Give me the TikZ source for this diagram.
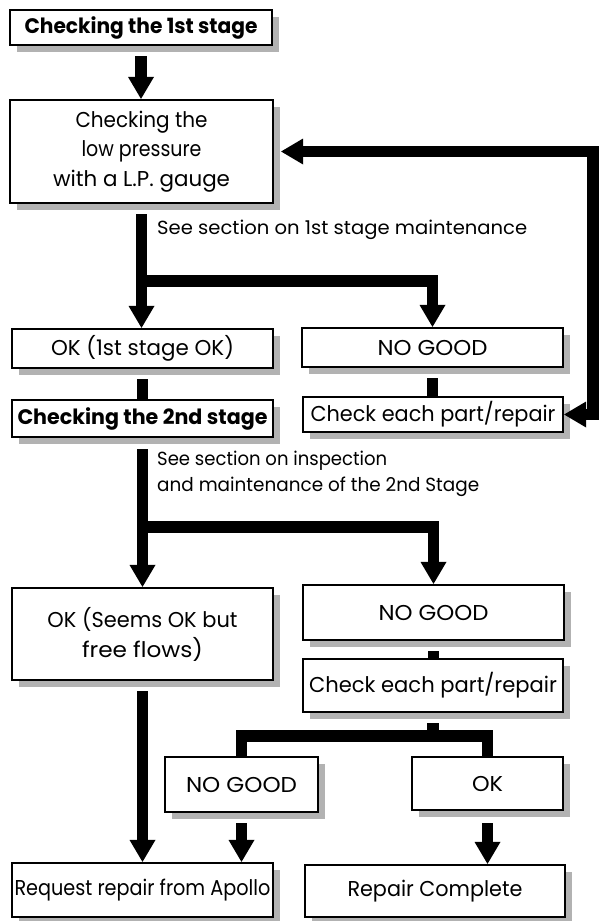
\documentclass[tikz,border=0pt]{standalone}
\usepackage{fontspec}
\setmainfont{Poppins}
\usetikzlibrary{arrows.meta,shadows}
\newsavebox\tbox
\newlength\tlen
\newcommand\fw[2]{\sbox\tbox{#2}\setlength\tlen{\wd\tbox}\pgfmathsetmacro\tsf{#1/\tlen}\scalebox{\tsf}[1]{\usebox\tbox}}
\begin{document}
\begin{tikzpicture}[x=1pt,y=-1pt,
  box/.style={draw=black, line width=2.2pt, fill=white, inner sep=0pt, align=center,
    font=\fontsize{21.5}{29}\selectfont,
    general shadow={fill=black!30, shadow xshift=7pt, shadow yshift=-7pt}},
  note/.style={inner sep=0pt, align=left, anchor=west, font=\fontsize{19}{26}\selectfont},
  link/.style={line width=11.5pt, line join=miter, line cap=butt},
  arr/.style={link, -{Triangle[length=22pt 0 0, width=26pt 0 0, line width=0pt 0 0]}},
  dblarr/.style={link, {Triangle[length=22pt 0 0, width=26pt 0 0, line width=0pt 0 0]}-{Triangle[length=22pt 0 0, width=26pt 0 0, line width=0pt 0 0]}}]
\useasboundingbox (0,0) rectangle (599,921);
\fill[white] (0,0) rectangle (599,921);

% boxes
\node[box, minimum width=262pt, minimum height=35pt, font=\fontsize{21}{29}\selectfont] (b1) at (141,27.5) {\fw{233}{\bfseries Checking the 1st stage}};
\node[box, minimum width=263pt, minimum height=103pt, font=\fontsize{21.5}{29.5}\selectfont] (b2) at (141.5,151.5) {\fw{132}{Checking the}\\\fw{120}{low pressure}\\\fw{177}{with a L.P. gauge}};
\node[box, minimum width=261pt, minimum height=39pt] (ok1) at (142.5,348.5) {\fw{183}{OK (1st stage OK)}};
\node[box, minimum width=261pt, minimum height=39pt] (ng1) at (432.5,347.5) {\fw{110}{NO GOOD}};
\node[box, minimum width=260pt, minimum height=35pt] (chk1) at (433,414.5) {\fw{245}{Check each part/repair}};
\node[box, minimum width=261pt, minimum height=37pt, font=\fontsize{21}{29}\selectfont] (b2nd) at (142.5,418.5) {\fw{250}{\bfseries Checking the 2nd stage}};
\node[box, minimum width=261pt, minimum height=92pt, font=\fontsize{21.5}{30}\selectfont] (ok2) at (142.5,634) {\fw{190}{OK (Seems OK but}\\\fw{121}{free flows)}};
\node[box, minimum width=261pt, minimum height=55pt] (ng2) at (433.5,612.5) {\fw{110}{NO GOOD}};
\node[box, minimum width=260pt, minimum height=53pt] (chk2) at (433,685.5) {\fw{248}{Check each part/repair}};
\node[box, minimum width=153pt, minimum height=55pt] (ng3) at (241.5,784.5) {\fw{111}{NO GOOD}};
\node[box, minimum width=151pt, minimum height=53pt] (ok3) at (487.5,783.5) {\fw{31}{OK}};
\node[box, minimum width=261pt, minimum height=54pt] (req) at (142.5,890) {\fw{256}{Request repair from Apollo}};
\node[box, minimum width=260pt, minimum height=52pt] (rc) at (435,891) {\fw{175}{Repair Complete}};

% notes
\node[note] (n1) at (157,230) {\fw{370}{See section on 1st stage maintenance}};
\node[note] (n2) at (157,474) {\fw{230}{See section on inspection}\\\fw{322}{and maintenance of the 2nd Stage}};

% junction coordinates
\coordinate (j1) at (141.5,281);
\coordinate (j2) at (142.5,527);
\coordinate (j3) at (433,736);
\coordinate (fb) at (593,0);

% connectors
\draw[arr, shorten <=10pt] (b1.south) -- (b1.south |- b2.north);
\draw[arr, shorten <=10pt] (b2.south) -- (b2.south |- ok1.north);
\draw[arr] (j1) -- (j1 -| ng1.north) -- (ng1.north);
\draw[link, shorten <=10pt] (ng1.south) -- (ng1.south |- chk1.north);
\draw[dblarr] (chk1.east) -- (chk1.east -| fb) -- (fb |- b2.east) -- ([xshift=7pt]b2.east);
\draw[link, shorten <=10pt] (ok1.south) -- (ok1.south |- b2nd.north);
\draw[arr, shorten <=11pt] (b2nd.south) -- (b2nd.south |- ok2.north);
\draw[arr] (j2) -- (j2 -| ng2.north) -- (ng2.north);
\draw[link, shorten <=10pt] (ng2.south) -- (ng2.south |- chk2.north);
\draw[link, shorten <=10pt] (chk2.south) -- (j3);
\draw[link] (ng3.north) -- (ng3.north |- j3) -- (ok3.north |- j3) -- (ok3.north);
\draw[arr, shorten <=10pt] (ok2.south) -- (ok2.south |- req.north);
\draw[arr, shorten <=10pt] (ng3.south) -- (ng3.south |- req.north);
\draw[arr, shorten <=12pt] (ok3.south) -- (ok3.south |- rc.north);
\end{tikzpicture}
\end{document}
